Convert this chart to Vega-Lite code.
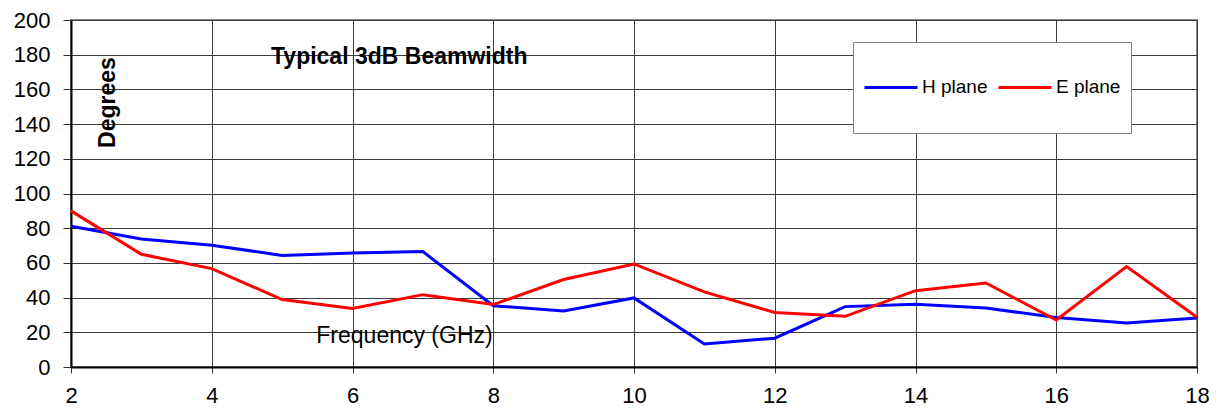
{
  "$schema": "https://vega.github.io/schema/vega-lite/v6.json",
  "width": 1126,
  "height": 347,
  "autosize": {"type": "none"},
  "padding": {"left": 71, "top": 20, "right": 23, "bottom": 45},
  "background": "white",
  "title": {
    "text": "Typical 3dB Beamwidth",
    "anchor": "start",
    "frame": "group",
    "orient": "top",
    "dx": 200,
    "dy": 64,
    "font": "Liberation Sans",
    "fontSize": 23,
    "fontWeight": "bold",
    "color": "black"
  },
  "config": {
    "view": {"stroke": "#888888", "strokeWidth": 2},
    "font": "Liberation Sans",
    "axis": {
      "labelFont": "Liberation Sans",
      "labelFontSize": 22,
      "labelColor": "black",
      "gridColor": "#3c3c3c",
      "gridWidth": 1,
      "gridOpacity": 1,
      "domainColor": "black",
      "domainWidth": 2,
      "tickColor": "#333333",
      "tickWidth": 1
    }
  },
  "data": {
    "values": [
      {"freq": 2, "value": 81.1, "plane": "H plane"},
      {"freq": 3, "value": 73.8, "plane": "H plane"},
      {"freq": 4, "value": 70.2, "plane": "H plane"},
      {"freq": 5, "value": 64.3, "plane": "H plane"},
      {"freq": 6, "value": 65.7, "plane": "H plane"},
      {"freq": 7, "value": 66.5, "plane": "H plane"},
      {"freq": 8, "value": 35.3, "plane": "H plane"},
      {"freq": 9, "value": 32.3, "plane": "H plane"},
      {"freq": 10, "value": 39.8, "plane": "H plane"},
      {"freq": 11, "value": 13.3, "plane": "H plane"},
      {"freq": 12, "value": 16.6, "plane": "H plane"},
      {"freq": 13, "value": 34.8, "plane": "H plane"},
      {"freq": 14, "value": 36.2, "plane": "H plane"},
      {"freq": 15, "value": 34.0, "plane": "H plane"},
      {"freq": 16, "value": 28.5, "plane": "H plane"},
      {"freq": 17, "value": 25.4, "plane": "H plane"},
      {"freq": 18, "value": 28.3, "plane": "H plane"},
      {"freq": 2, "value": 90.0, "plane": "E plane"},
      {"freq": 3, "value": 65.0, "plane": "E plane"},
      {"freq": 4, "value": 56.7, "plane": "E plane"},
      {"freq": 5, "value": 38.9, "plane": "E plane"},
      {"freq": 6, "value": 33.7, "plane": "E plane"},
      {"freq": 7, "value": 41.7, "plane": "E plane"},
      {"freq": 8, "value": 36.0, "plane": "E plane"},
      {"freq": 9, "value": 50.4, "plane": "E plane"},
      {"freq": 10, "value": 59.4, "plane": "E plane"},
      {"freq": 11, "value": 43.3, "plane": "E plane"},
      {"freq": 12, "value": 31.4, "plane": "E plane"},
      {"freq": 13, "value": 29.2, "plane": "E plane"},
      {"freq": 14, "value": 44.0, "plane": "E plane"},
      {"freq": 15, "value": 48.4, "plane": "E plane"},
      {"freq": 16, "value": 27.1, "plane": "E plane"},
      {"freq": 17, "value": 57.9, "plane": "E plane"},
      {"freq": 18, "value": 28.7, "plane": "E plane"}
    ]
  },
  "mark": {"type": "line", "strokeWidth": 3, "clip": false},
  "encoding": {
    "x": {
      "field": "freq",
      "type": "quantitative",
      "scale": {"domain": [2, 18], "nice": false, "zero": false},
      "axis": {
        "values": [2, 4, 6, 8, 10, 12, 14, 16, 18],
        "title": "Frequency (GHz)",
        "titleFont": "Liberation Sans",
        "titleFontSize": 23,
        "titleFontWeight": "normal",
        "titleColor": "black",
        "titleX": 333,
        "titleY": -32,
        "titleBaseline": "middle",
        "titleAlign": "center",
        "tickSize": 6,
        "labelPadding": 12,
        "labelFlush": false,
        "labelOverlap": false
      }
    },
    "y": {
      "field": "value",
      "type": "quantitative",
      "scale": {"domain": [0, 200], "nice": false},
      "axis": {
        "values": [0, 20, 40, 60, 80, 100, 120, 140, 160, 180, 200],
        "title": "Degrees",
        "titleFont": "Liberation Sans",
        "titleFontSize": 23,
        "titleFontWeight": "bold",
        "titleColor": "black",
        "titleAngle": -90,
        "titleX": 48,
        "titleY": 82,
        "titleAlign": "center",
        "titleBaseline": "bottom",
        "tickSize": 8,
        "labelPadding": 13,
        "labelOverlap": false
      }
    },
    "color": {
      "field": "plane",
      "type": "nominal",
      "sort": ["H plane", "E plane"],
      "scale": {"domain": ["H plane", "E plane"], "range": ["#0000ff", "#ff0000"]},
      "legend": {
        "title": " ",
        "titleFontSize": 5,
        "titlePadding": 2,
        "orient": "none",
        "legendX": 782,
        "legendY": 22,
        "direction": "horizontal",
        "symbolType": "M-1,0H1M0,-1.1M0,1.1",
        "symbolSize": 2809,
        "symbolStrokeWidth": 3,
        "labelFont": "Liberation Sans",
        "labelFontSize": 19,
        "labelColor": "black",
        "labelOffset": 3,
        "columnPadding": 4,
        "padding": 10,
        "fillColor": "white",
        "strokeColor": "#808080",
        "cornerRadius": 0
      }
    }
  }
}
